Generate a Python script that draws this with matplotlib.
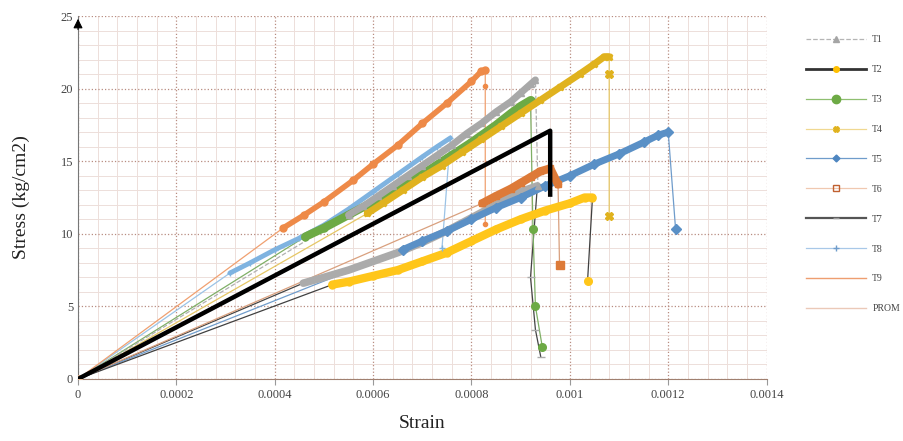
import numpy as np
import matplotlib
matplotlib.use("Agg")
import matplotlib.pyplot as plt
from matplotlib.lines import Line2D
from matplotlib.ticker import MultipleLocator

plt.rcParams['font.family'] = ['Liberation Serif', 'DejaVu Serif']

# ramp data (strain, stress), plus the drop after the peak
t1_x = [0.00055, 0.00058, 0.00061, 0.00064, 0.00067, 0.00070, 0.00073, 0.00076,
        0.00079, 0.00082, 0.00085, 0.00088, 0.00090, 0.00092, 0.00093]
t1_y = [11.3, 11.9, 12.6, 13.3, 14.0, 14.7, 15.4, 16.1, 16.9, 17.6, 18.4, 19.1, 19.7, 20.3, 20.6]
t1_drop_x = [0.000935]
t1_drop_y = [13.3]

t2_x = [0.000517, 0.00055, 0.0006, 0.00065, 0.0007, 0.00075, 0.0008, 0.00085,
        0.0009, 0.00095, 0.001, 0.00103, 0.001046]
t2_y = [6.5, 6.7, 7.1, 7.5, 8.1, 8.7, 9.5, 10.3, 11.0, 11.6, 12.1, 12.5, 12.5]
t2_drop_x = [0.001036]
t2_drop_y = [6.75]

t3_x = [0.000462, 0.0005, 0.00055, 0.0006, 0.00065, 0.0007, 0.00075, 0.0008,
        0.00085, 0.00088, 0.0009, 0.00092]
t3_y = [9.8, 10.4, 11.3, 12.2, 13.1, 14.1, 15.2, 16.3, 17.5, 18.3, 18.8, 19.2]
t3_drop_x = [0.000925, 0.00093, 0.000944]
t3_drop_y = [10.3, 5.0, 2.2]

t4_x = [0.000588, 0.00062, 0.00066, 0.0007, 0.00074, 0.00078, 0.00082, 0.00086,
        0.0009, 0.00094, 0.00098, 0.00102, 0.00105, 0.00107, 0.00108]
t4_y = [11.4, 12.1, 13.0, 13.9, 14.7, 15.6, 16.5, 17.4, 18.3, 19.2, 20.1, 21.0, 21.7, 22.2, 22.2]
t4_drop_x = [0.00108, 0.00108]
t4_drop_y = [21.0, 11.2]

t5_x = [0.00066, 0.0007, 0.00075, 0.0008, 0.00085, 0.0009, 0.00095, 0.001,
        0.00105, 0.0011, 0.00115, 0.00118, 0.0012]
t5_y = [8.9, 9.5, 10.2, 11.0, 11.8, 12.5, 13.3, 14.0, 14.8, 15.5, 16.3, 16.8, 17.0]
t5_drop_x = [0.001215]
t5_drop_y = [10.3]

t6_x = [0.000822, 0.00085, 0.00088, 0.0009, 0.00092, 0.00094, 0.00096, 0.000976]
t6_y = [12.1, 12.6, 13.1, 13.5, 13.9, 14.3, 14.5, 13.4]
t6_drop_x = [0.000979]
t6_drop_y = [7.85]

t7_x = [0.000458, 0.0005, 0.00055, 0.0006, 0.00065, 0.0007, 0.00075, 0.0008,
        0.00085, 0.0009, 0.000934]
t7_y = [6.6, 7.0, 7.5, 8.1, 8.7, 9.4, 10.2, 11.1, 12.0, 12.9, 13.3]
t7_drop_x = [0.00092, 0.00093, 0.000941]
t7_drop_y = [7.0, 3.4, 1.5]

t8_x = [0.000309, 0.00035, 0.0004, 0.00045, 0.0005, 0.00055, 0.0006, 0.00065,
        0.0007, 0.00073, 0.000757]
t8_y = [7.3, 8.0, 8.9, 9.7, 10.6, 11.7, 12.9, 14.1, 15.3, 16.0, 16.6]
t8_drop_x = [0.00074]
t8_drop_y = [9.0]

t9_x = [0.000417, 0.00046, 0.0005, 0.00056, 0.0006, 0.00065, 0.0007, 0.00075,
        0.0008, 0.00082, 0.000828]
t9_y = [10.4, 11.3, 12.2, 13.7, 14.8, 16.1, 17.6, 19.0, 20.5, 21.2, 21.3]
t9_drop_x = [0.000828, 0.000828]
t9_drop_y = [20.2, 10.7]

prom_x = [0, 0.00096, 0.00096]
prom_y = [0, 17.1, 12.7]

labels = ['T1', 'T2', 'T3', 'T4', 'T5', 'T6', 'T7', 'T8', 'T9', 'PROM']
x_ticks = [0, 0.0002, 0.0004, 0.0006, 0.0008, 0.001, 0.0012, 0.0014]
x_tick_labels = ['0', '0.0002', '0.0004', '0.0006', '0.0008', '0.001', '0.0012', '0.0014']
y_ticks = [0, 5, 10, 15, 20, 25]

fig = plt.figure(figsize=(9.04, 4.41), dpi=100)
ax = fig.add_axes([0.0863, 0.1406, 0.7617, 0.8231])

# (ramp x, ramp y, drop x, drop y, band colour, line colour, marker, line style, band width, drop marker size)
series = [
    (t8_x, t8_y, t8_drop_x, t8_drop_y, '#7FB3E0', '#9CC3E6', '+', '-', 3.5, 4),
    (t9_x, t9_y, t9_drop_x, t9_drop_y, '#EE8A48', '#F0A070', 'o', '-', 4, 3),
    (t7_x, t7_y, t7_drop_x, t7_drop_y, '#ABABAB', '#444444', '_', '-', 5.5, 6),
    (t5_x, t5_y, t5_drop_x, t5_drop_y, '#5A90C6', '#6F9CCB', 'D', '-', 5, 5.5),
    (t2_x, t2_y, t2_drop_x, t2_drop_y, '#FFC61A', '#404040', 'o', '-', 6, 5.5),
    (t3_x, t3_y, t3_drop_x, t3_drop_y, '#6DAA45', '#7FAF66', 'o', '-', 6, 5.5),
    (t4_x, t4_y, t4_drop_x, t4_drop_y, '#E0B21E', '#E6C766', 'X', '-', 5, 5.5),
    (t1_x, t1_y, t1_drop_x, t1_drop_y, '#A8A8A8', '#B0B0B0', '^', '--', 5, 4),
    (t6_x, t6_y, t6_drop_x, t6_drop_y, '#DD7A38', '#D9A07E', 's', '-', 6, 5.5),
]

for rx, ry, dx, dy, band_c, line_c, mk, ls, bw, dms in series:
    full_x = [0] + rx + dx
    full_y = [0] + ry + dy
    ax.plot(full_x, full_y, color=line_c, lw=0.9, ls=ls, zorder=2)
    ax.plot(rx, ry, color=band_c, lw=bw, solid_capstyle='round', zorder=3)
    ax.plot(rx, ry, ls='none', marker=mk, color=band_c, mec=band_c, ms=5, zorder=3)
    ax.plot(dx, dy, ls='none', marker=mk, color=band_c, mec=band_c, ms=dms, zorder=4)
    ax.plot([0], [0], ls='none', marker='s', color='#E8B890', ms=5, zorder=4)

ax.plot(prom_x, prom_y, color='black', lw=3.2, zorder=5)

ax.set_xlim(0, 0.0014)
ax.set_ylim(0, 25)
ax.set_xticks(x_ticks)
ax.set_xticklabels(x_tick_labels)
ax.xaxis.set_minor_locator(MultipleLocator(0.00004))
ax.set_yticks(y_ticks)
ax.set_yticklabels([str(v) for v in y_ticks])
ax.yaxis.set_minor_locator(MultipleLocator(1))

ax.grid(which='major', color='#B88C80', ls=':', lw=0.9)
ax.grid(which='minor', color='#EDDEDA', ls='-', lw=0.7)
ax.set_axisbelow(True)
ax.tick_params(which='both', labelsize=9, colors='#444444', length=0)
ax.tick_params(axis='x', which='major', length=4, direction='out', color='#999999')
for side in ['top', 'right']:
    ax.spines[side].set_visible(False)
ax.spines['left'].set_color('#777777')
ax.spines['bottom'].set_color('#A08070')

ax.annotate('', xy=(0, 1.0), xytext=(0, 0.955), xycoords='axes fraction',
            arrowprops=dict(arrowstyle='-|>', color='black', lw=0.8, mutation_scale=14))

ax.set_xlabel('Strain', fontsize=14, color='#222222', labelpad=10)
ax.set_ylabel('Stress (kg/cm2)', fontsize=14, color='#222222', labelpad=22)

handles = [
    Line2D([], [], color='#B5B5B5', ls='--', lw=0.9, marker='^', ms=4, mfc='#A5A5A5', mec='#A5A5A5'),
    Line2D([], [], color='#333333', lw=2, marker='o', ms=4, mfc='#FFC000', mec='#FFC000'),
    Line2D([], [], color='#8FBF70', lw=0.9, marker='o', ms=6, mfc='#6DAA45', mec='#6DAA45'),
    Line2D([], [], color='#F0D890', lw=0.9, marker='X', ms=4, mfc='#E0B21E', mec='#E0B21E'),
    Line2D([], [], color='#6F9CCB', lw=0.9, marker='D', ms=3.5, mfc='#4E86C0', mec='#4E86C0'),
    Line2D([], [], color='#F0C8B0', lw=0.9, marker='s', ms=5, mfc='none', mec='#C06030'),
    Line2D([], [], color='#555555', lw=1.6, marker='_', ms=5, mec='#999999'),
    Line2D([], [], color='#A8C8E8', lw=0.9, marker='+', ms=4, mec='#6F9CCB'),
    Line2D([], [], color='#EE9E70', lw=1.0),
    Line2D([], [], color='#EBC9B8', lw=1.0),
]
fig.legend(handles, labels, loc='upper left', bbox_to_anchor=(0.882, 0.94),
           frameon=False, fontsize=7, handlelength=6.2, handletextpad=0.6,
           labelspacing=2.15, labelcolor='#444444')

fig.savefig('out.png', dpi=100)
